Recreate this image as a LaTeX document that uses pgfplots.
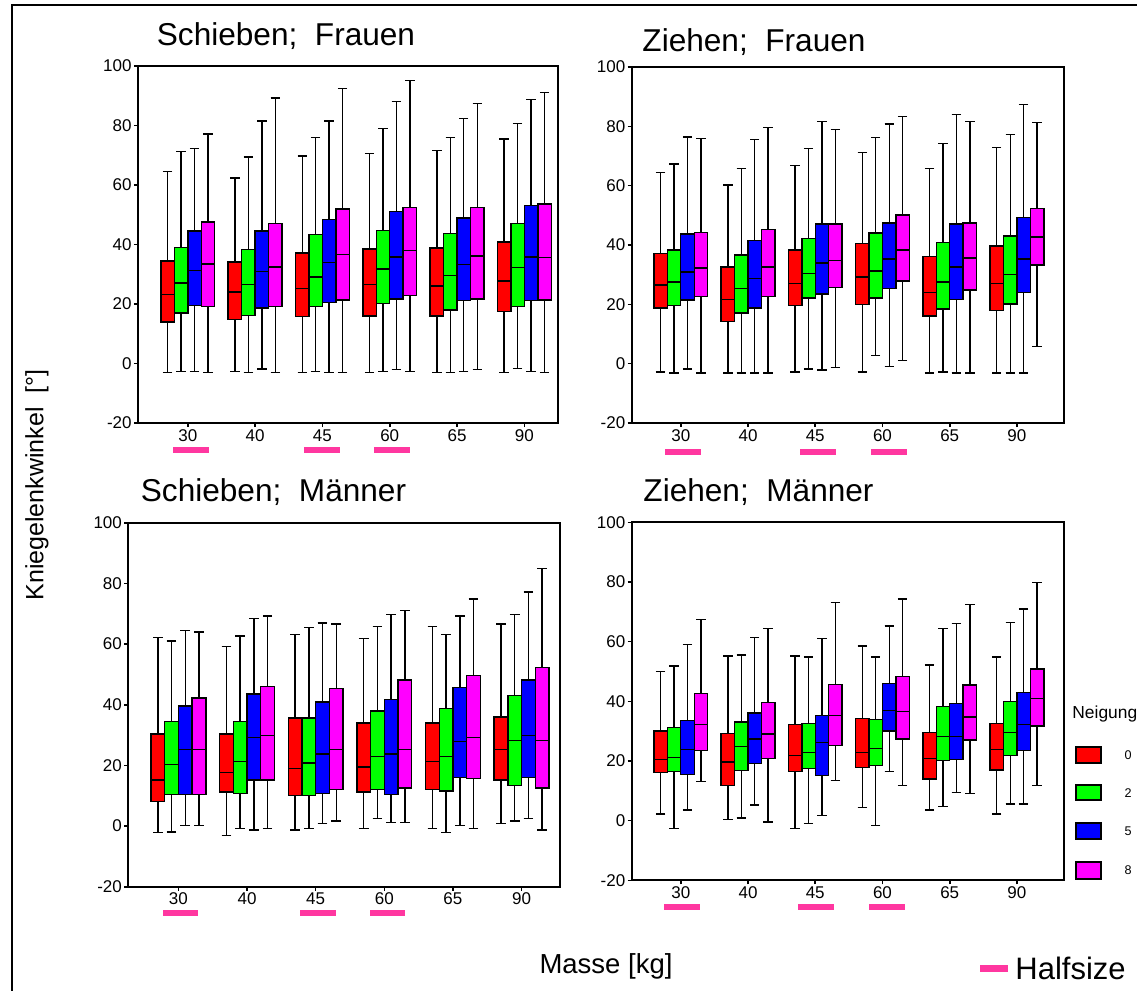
\documentclass[border=0pt]{standalone}
\usepackage{fontspec}
\setmainfont{Liberation Sans}
\usepackage{pgfplots}
\usepackage{pgfplotstable}
\pgfplotsset{compat=1.18}
\usepgfplotslibrary{statistics}
\definecolor{halfpink}{RGB}{255,55,160}
\definecolor{bred}{RGB}{255,0,0}
\definecolor{bgreen}{RGB}{0,255,0}
\definecolor{bblue}{RGB}{0,0,255}
\definecolor{bmag}{RGB}{255,0,255}

% Schieben; Frauen
\pgfplotstableread{
m  lw0  lq0  md0  uq0  uw0   lw2  lq2  md2  uq2  uw2   lw5  lq5  md5  uq5  uw5   lw8  lq8  md8  uq8  uw8
30 -3.1 13.9 23.1 34.4 64.5  -2.7 17.0 27.0 38.9 71.2  -2.6 19.5 31.3 44.5 72.3  -3.1 19.1 33.5 47.5 77.2
40 -2.6 14.8 24.0 34.1 62.3  -3.1 16.1 26.6 38.3 69.4  -1.8 18.7 30.9 44.5 81.5  -3.1 19.1 32.5 47.1 89.3
45 -3.1 15.7 25.2 37.1 69.7  -2.6 19.1 29.1 43.3 75.9  -3.1 20.5 34.0 48.4 81.5  -3.1 21.4 36.7 51.9 92.4
60 -3.1 16.0 26.6 38.5 70.6  -2.6 20.1 31.8 44.8 78.9  -2.1 21.7 35.8 51.0 88.0  -2.6 22.8 37.9 52.4 95.1
65 -3.1 16.0 26.1 38.8 71.5  -3.1 18.0 29.6 43.6 75.9  -2.6 21.1 33.3 48.9 82.4  -2.1 21.7 36.1 52.4 87.3
90 -3.1 17.4 27.8 40.9 75.4  -1.7 19.1 32.2 47.0 80.6  -2.6 21.1 35.8 53.1 88.7  -3.1 21.4 35.7 53.6 91.1
}\SF

% Ziehen; Frauen
\pgfplotstableread{
m  lw0  lq0  md0  uq0  uw0   lw2  lq2  md2  uq2  uw2   lw5  lq5  md5  uq5  uw5   lw8  lq8  md8  uq8  uw8
30 -2.8 18.7 26.5 37.1 64.5  -3.1 19.6 27.5 38.3 67.3  -1.8 21.5 30.9 43.7 76.4  -3.1 22.7 32.2 44.2 76.0
40 -3.1 14.3 21.7 32.6 60.2  -3.1 17.1 25.3 36.6 65.8  -3.1 18.7 28.8 41.5 75.5  -3.1 22.7 32.6 45.3 79.6
45 -2.8 19.6 27.0 38.3 66.9  -1.8 22.2 30.4 42.2 72.5  -2.2 23.5 34.0 47.1 81.7  -1.3 25.6 34.7 47.1 79.0
60 -2.8 20.0 29.2 40.6 71.2   2.7 22.2 31.3 44.0 76.3  -0.9 25.3 35.3 47.4 80.8   1.1 27.9 38.3 50.1 83.3
65 -3.1 16.1 23.9 36.1 65.8  -2.8 18.4 27.5 40.9 74.2  -3.1 21.7 32.6 47.1 83.9  -3.1 24.9 35.6 47.4 81.7
90 -3.1 17.9 27.1 39.7 72.9  -3.1 20.1 30.0 43.1 77.3  -3.1 23.9 35.3 49.3 87.4   5.7 33.3 42.7 52.4 81.3
}\ZF

% Schieben; Maenner
\pgfplotstableread{
m  lw0  lq0  md0  uq0  uw0   lw2  lq2  md2  uq2  uw2   lw5  lq5  md5  uq5  uw5   lw8  lq8  md8  uq8  uw8
30 -2.2  8.0 15.2 30.4 62.2  -2.0 10.4 20.3 34.4 61.0   0.1 10.4 25.3 39.6 64.4   0.1 10.4 25.3 42.2 64.0
40 -3.1 11.2 17.7 30.4 59.1  -0.9 10.8 21.2 34.4 62.7  -1.3 15.2 29.1 43.5 68.4  -0.9 15.2 29.9 46.0 69.2
45 -1.3 10.0 19.0 35.6 63.1  -0.9 10.0 20.8 35.6 65.4   0.8 10.8 23.8 40.9 67.0   1.6 12.1 25.3 45.3 66.6
60 -0.9 11.2 19.5 34.0 61.9   2.5 12.1 23.0 37.9 65.7   1.2 10.4 23.8 41.8 69.7   1.2 12.5 25.3 48.2 71.0
65 -0.9 12.1 21.2 34.0 65.7  -2.2 11.6 23.0 38.7 63.1   0.1 16.0 27.8 45.6 69.2  -0.9 15.6 29.1 49.6 74.8
90  0.9 15.2 25.2 36.0 66.6   1.6 13.4 28.2 43.1 69.7   2.5 16.0 29.9 48.2 77.1  -1.3 12.5 28.2 52.3 84.9
}\SM

% Ziehen; Maenner
\pgfplotstableread{
m  lw0  lq0  md0  uq0  uw0   lw2  lq2  md2  uq2  uw2   lw5  lq5  md5  uq5  uw5   lw8  lq8  md8  uq8  uw8
30  2.2 16.1 20.4 30.1 49.9  -2.6 16.4 21.2 31.2 51.8   3.5 15.5 23.9 33.5 59.1  13.1 23.6 32.3 42.7 67.5
40  0.4 11.7 19.6 29.2 55.2   0.9 16.9 24.8 33.1 55.5   5.3 19.1 27.3 36.1 61.3  -0.4 20.9 29.1 39.6 64.5
45 -2.6 16.4 21.8 32.2 55.2  -0.9 17.5 22.9 32.6 54.9   1.8 15.1 26.1 35.2 61.0  13.5 25.1 35.2 45.7 73.2
60  4.4 17.9 22.9 34.3 58.5  -1.7 18.4 24.2 33.9 54.9  16.4 30.1 37.0 46.0 65.3  11.7 27.4 36.5 48.3 74.3
65  3.5 13.9 20.9 29.5 52.2   4.8 20.1 28.3 38.2 64.5   9.5 20.4 28.3 39.2 66.0   9.1 27.0 34.7 45.4 72.5
90  2.2 17.0 23.8 32.5 54.9   5.6 21.8 29.6 39.9 66.5   5.6 23.6 32.3 43.0 70.9  11.7 31.7 40.9 50.8 79.9
}\ZM

\newcommand\boxset[4]{%
  \pgfplotsinvokeforeach{0,...,5}{%
    \pgfplotstablegetelem{##1}{lw#2}\of#1\let\vlw\pgfplotsretval
    \pgfplotstablegetelem{##1}{lq#2}\of#1\let\vlq\pgfplotsretval
    \pgfplotstablegetelem{##1}{md#2}\of#1\let\vmd\pgfplotsretval
    \pgfplotstablegetelem{##1}{uq#2}\of#1\let\vuq\pgfplotsretval
    \pgfplotstablegetelem{##1}{uw#2}\of#1\let\vuw\pgfplotsretval
    \edef\doplot{\noexpand\addplot[draw=black, fill=#4, line width=0.7pt,
      boxplot prepared={draw direction=y, draw position=##1#3, lower whisker=\vlw,
        lower quartile=\vlq, median=\vmd, upper quartile=\vuq,
        upper whisker=\vuw, box extend=0.2, whisker extend=0.14}]
      coordinates {};}%
    \doplot
  }%
}
\newcommand\allboxes[1]{%
  \boxset{#1}{0}{-0.3}{bred}%
  \boxset{#1}{2}{-0.1}{bgreen}%
  \boxset{#1}{5}{+0.1}{bblue}%
  \boxset{#1}{8}{+0.3}{bmag}%
}

\pgfplotsset{panel/.style={
  scale only axis, clip=false, anchor=south west,
  ymin=-20, ymax=100, ytick={-20,0,20,40,60,80,100},
  xtick={0,1,2,3,4,5}, xticklabels={30,40,45,60,65,90},
  tick pos=left, tick align=outside,
  major tick length=2pt,
  axis line style={line width=1pt},
  every tick/.style={black, line width=0.8pt},
  tick label style={font=\fontsize{8.5}{10}\selectfont},
  yticklabel style={inner sep=1pt},
  xticklabel style={inner sep=1pt},
  /pgf/number format/assume math mode=true,
}}

\begin{document}
\begin{tikzpicture}
\useasboundingbox (0pt,0pt) rectangle (568.5pt,-495.5pt);
\draw[line width=1.25pt] (6pt,-495.5pt) -- (6pt,-2.5pt) -- (568.5pt,-2.5pt);

\begin{axis}[panel, at={(69pt,-211.5pt)}, width=210pt, height=178.5pt, xmin=-0.74, xmax=5.5]
\allboxes{\SF}
\end{axis}
\begin{axis}[panel, at={(315.85pt,-211.5pt)}, width=216.15pt, height=178pt, xmin=-0.73, xmax=5.70]
\allboxes{\ZF}
\end{axis}
\begin{axis}[panel, at={(64.15pt,-443.35pt)}, width=215.85pt, height=182pt, xmin=-0.73, xmax=5.56]
\allboxes{\SM}
\end{axis}
\begin{axis}[panel, at={(315.85pt,-440.15pt)}, width=216.15pt, height=179pt, xmin=-0.73, xmax=5.70]
\allboxes{\ZM}
\end{axis}

\begin{scope}[every node/.style={inner sep=0pt, font=\fontsize{15.8}{18}\selectfont}]
\node at (143pt,-18pt) {Schieben;\ \ Frauen};
\node at (377pt,-21pt) {Ziehen;\ \ Frauen};
\node at (136.75pt,-246pt) {Schieben;\ \ Männer};
\node at (379.25pt,-246pt) {Ziehen;\ \ Männer};
\end{scope}

\begin{scope}[halfpink, line width=3.25pt]
\draw (86.5pt,-225pt) -- (104.5pt,-225pt);
\draw (152pt,-225pt) -- (170pt,-225pt);
\draw (187pt,-225pt) -- (205pt,-225pt);
\draw (332.5pt,-226pt) -- (350.5pt,-226pt);
\draw (400pt,-226pt) -- (418pt,-226pt);
\draw (435.5pt,-226pt) -- (453.5pt,-226pt);
\draw (81.5pt,-456.5pt) -- (99pt,-456.5pt);
\draw (150pt,-456.5pt) -- (168pt,-456.5pt);
\draw (185pt,-456.5pt) -- (202.5pt,-456.5pt);
\draw (332pt,-453.5pt) -- (350pt,-453.5pt);
\draw (399pt,-453.5pt) -- (417pt,-453.5pt);
\draw (434.5pt,-453.5pt) -- (452.5pt,-453.5pt);
\end{scope}

\node[rotate=90, inner sep=0pt, font=\fontsize{12.5}{15}\selectfont] at (18.5pt,-242.5pt) {Kniegelenkwinkel\ \ [°]};
\node[inner sep=0pt, font=\fontsize{13.75}{16}\selectfont] at (303pt,-483pt) {Masse [kg]};
\draw[halfpink, line width=3.5pt] (490pt,-484pt) -- (504pt,-484pt);
\node[anchor=west, inner sep=0pt, font=\fontsize{15.5}{18}\selectfont] at (507.5pt,-484pt) {Halfsize};

\node[anchor=west, inner sep=0pt, font=\fontsize{8.7}{10}\selectfont] at (536pt,-357pt) {Neigung};
\filldraw[fill=bred, draw=black, line width=0.6pt] (538pt,-373.5pt) rectangle (550.5pt,-381.5pt);
\filldraw[fill=bgreen, draw=black, line width=0.6pt] (538pt,-392.5pt) rectangle (550.5pt,-400pt);
\filldraw[fill=bblue, draw=black, line width=0.6pt] (538pt,-411.5pt) rectangle (550.5pt,-419.5pt);
\filldraw[fill=bmag, draw=black, line width=0.6pt] (538pt,-431pt) rectangle (550.5pt,-439.5pt);
\begin{scope}[every node/.style={inner sep=0pt, font=\fontsize{6.3}{8}\selectfont}]
\node at (564pt,-377.5pt) {0};
\node at (564pt,-396.5pt) {2};
\node at (564pt,-415.5pt) {5};
\node at (564pt,-435pt) {8};
\end{scope}
\end{tikzpicture}
\end{document}
